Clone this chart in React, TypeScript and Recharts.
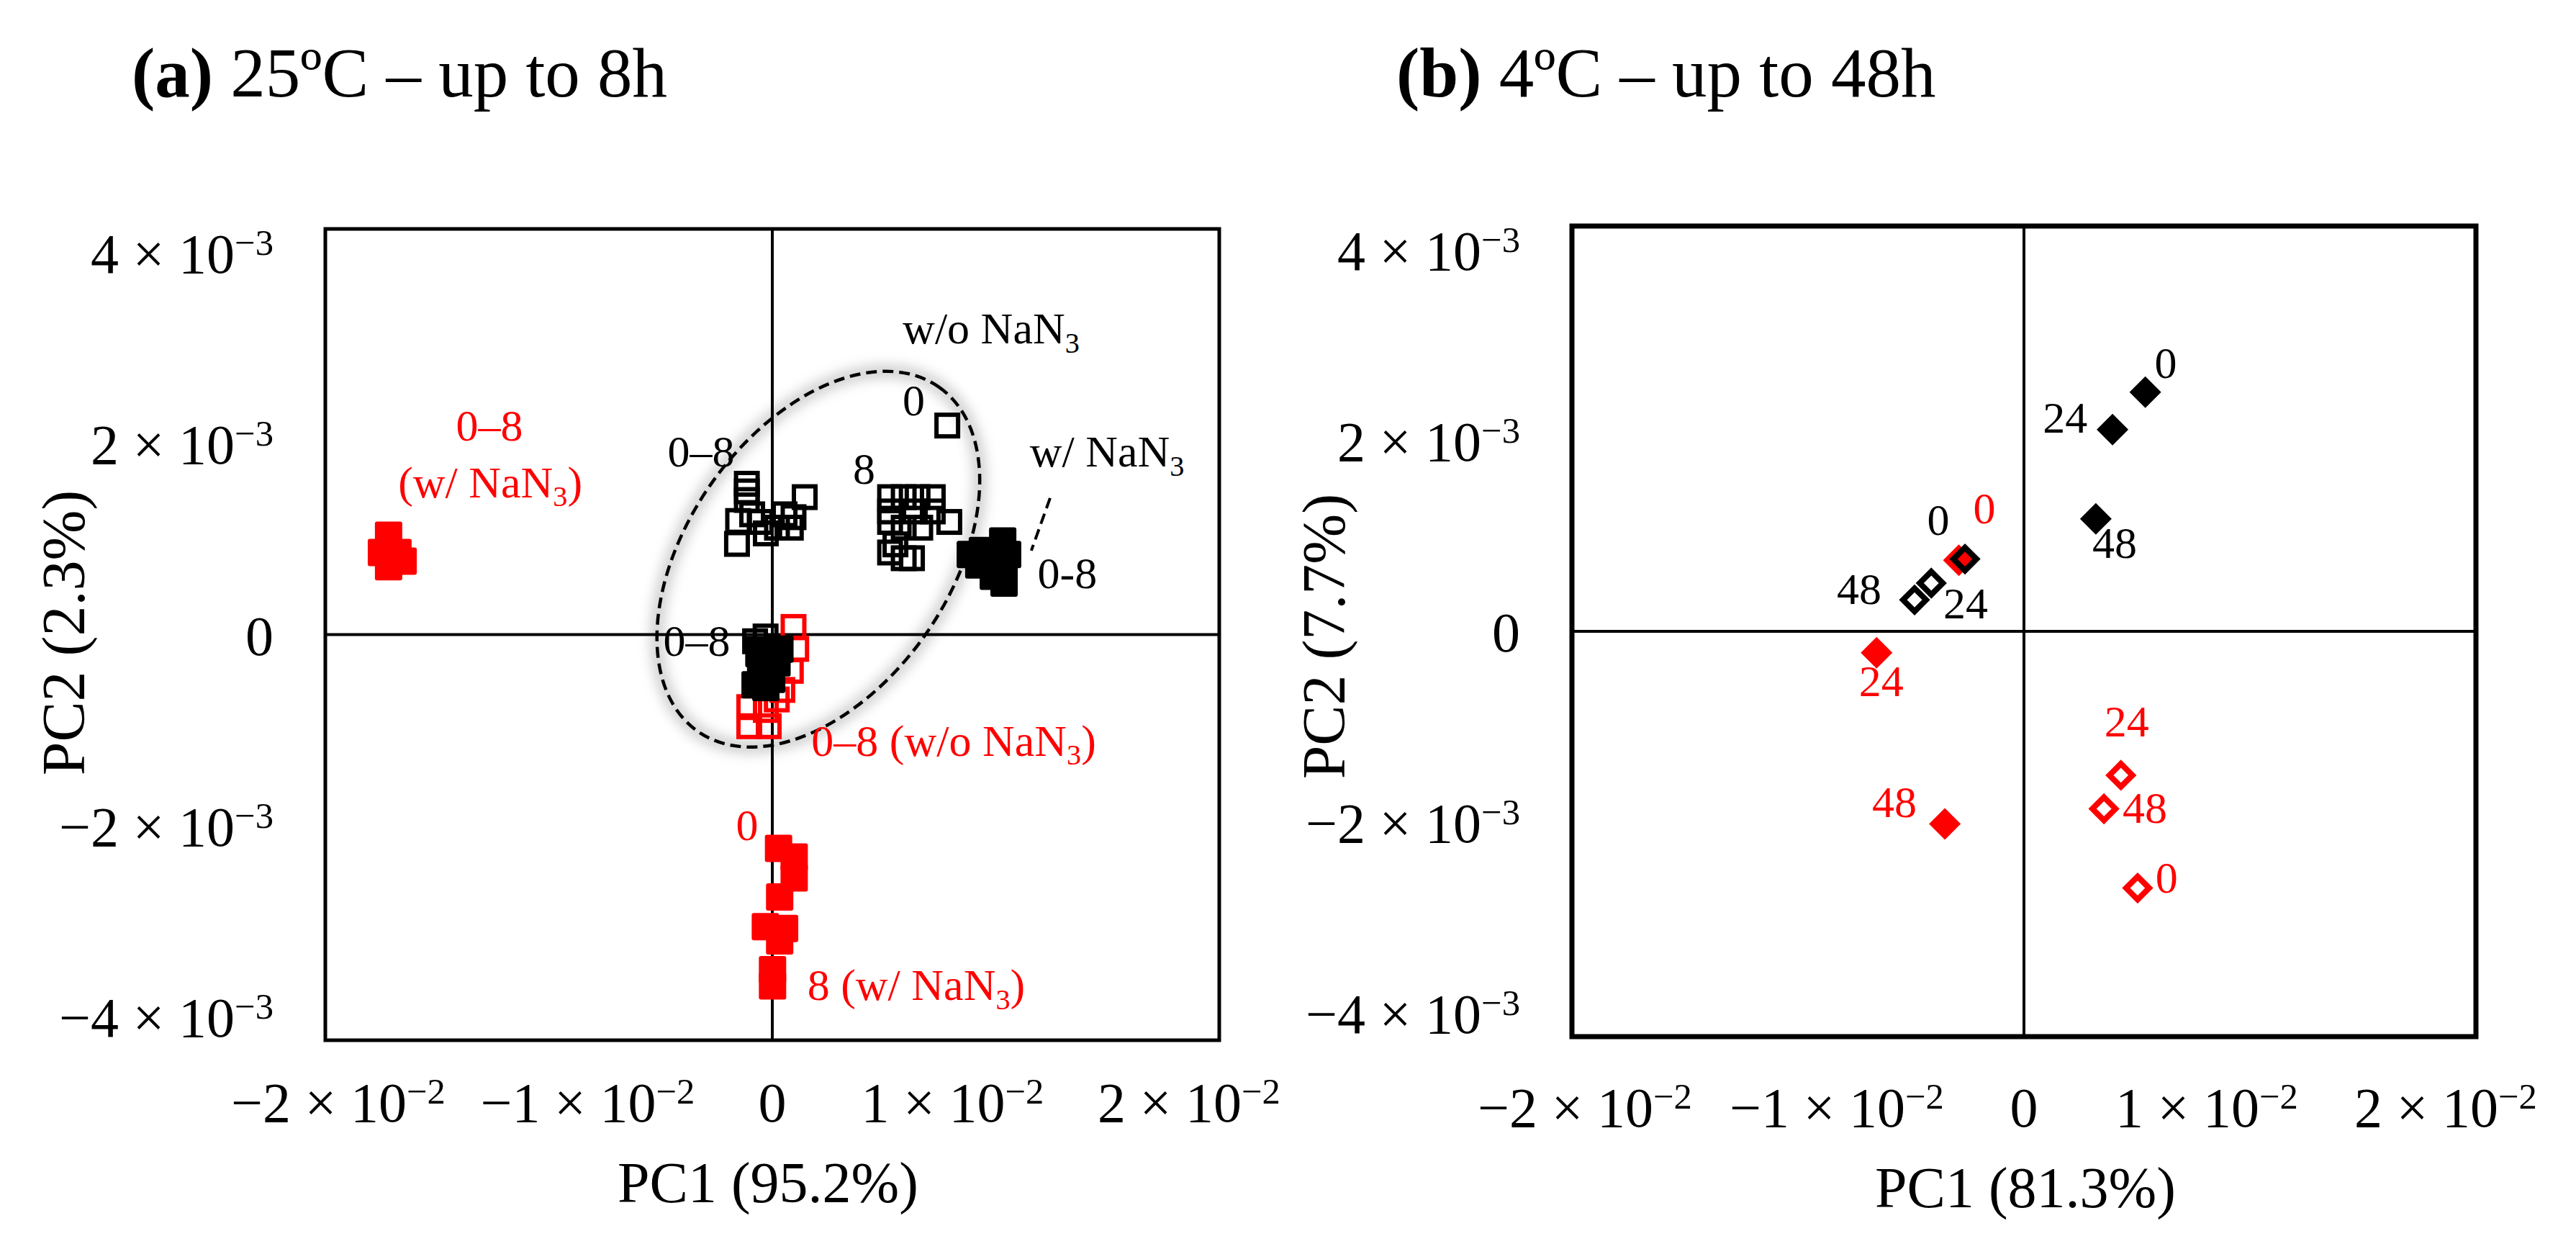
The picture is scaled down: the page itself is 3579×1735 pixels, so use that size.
import React from "react";
import { ScatterChart, Scatter, XAxis, YAxis, ReferenceLine, ReferenceArea, ReferenceDot } from "recharts";

const FONT = '"Liberation Serif", "Times New Roman", serif';
const RED = "#ff0000";
const BLACK = "#000000";

const xTicks = [-0.02, -0.01, 0, 0.01, 0.02];
const yTicks = [-0.004, -0.002, 0, 0.002, 0.004];
const xDomain = [-0.02, 0.02];
const yDomain = [-0.00425, 0.00425];
// the printed x labels sit a little toward the middle, not on the ticks
const xTickNudge = [18, 54, 0, -60, -42];

// ---- (a) 25ºC, up to 8 h ----
// black open squares, "0–8" group left of the y axis
const aBlackOpenUpper = [
  { x: -0.00114, y: 0.00158 }, { x: -0.00114, y: 0.0015 }, { x: -0.00114, y: 0.00141 },
  { x: -0.00153, y: 0.00119 }, { x: -0.00158, y: 0.00095 }, { x: 0.00145, y: 0.00144 },
  { x: -0.00052, y: 0.00118 }, { x: 0.00021, y: 0.00112 }, { x: 0.00083, y: 0.00112 },
  { x: 0.00095, y: 0.00123 }, { x: -0.00029, y: 0.00106 }, { x: -0.0009, y: 0.00126 },
  { x: 0.00055, y: 0.00126 },
];
// black open squares, "0" .. "8" group
const aBlackOpenRight = [
  { x: 0.00783, y: 0.00219 }, { x: 0.00527, y: 0.00144 }, { x: 0.00588, y: 0.00144 },
  { x: 0.0065, y: 0.00144 }, { x: 0.00718, y: 0.00144 }, { x: 0.00527, y: 0.00129 },
  { x: 0.00638, y: 0.00129 }, { x: 0.00718, y: 0.00129 }, { x: 0.00527, y: 0.00118 },
  { x: 0.00588, y: 0.00112 }, { x: 0.00662, y: 0.00112 }, { x: 0.00792, y: 0.00118 },
  { x: 0.00551, y: 0.000945 }, { x: 0.00588, y: 0.0008 }, { x: 0.00625, y: 0.0008 },
  { x: 0.00527, y: 0.00086 },
];
const aBlackOpenOrigin = [
  { x: -0.00077, y: -0.00007 }, { x: -0.0003, y: -0.00002 }, { x: -0.0006, y: -0.00015 },
];
const aBlackFilledOrigin = [
  { x: -0.00052, y: -0.000354 }, { x: -0.00077, y: -0.000526 }, { x: -0.00029, y: -0.000554 },
  { x: 0.00021, y: -0.000296 }, { x: 0.00034, y: -0.000152 }, { x: -0.00003, y: -0.000469 },
  { x: -0.0006, y: -0.0002 },
];
const aBlackFilledRight = [
  { x: 0.00886, y: 0.00084 }, { x: 0.0094, y: 0.00088 }, { x: 0.01031, y: 0.00098 },
  { x: 0.01053, y: 0.00084 }, { x: 0.01037, y: 0.00069 }, { x: 0.00989, y: 0.00061 },
  { x: 0.01037, y: 0.00054 }, { x: 0.00924, y: 0.00073 },
];
const aRedOpenOrigin = [
  { x: 0.00095, y: 0.00008 }, { x: 0.00107, y: -0.00015 }, { x: 0.00083, y: -0.00038 },
  { x: 0.00045, y: -0.00058 }, { x: 0.0002, y: -0.00068 }, { x: -0.00103, y: -0.00076 },
  { x: -0.00029, y: -0.00079 }, { x: -0.00103, y: -0.00096 }, { x: -0.00016, y: -0.00096 },
];
const aRedFilledColumn = [
  { x: 0.00028, y: -0.00224 }, { x: 0.00098, y: -0.00233 }, { x: 0.00098, y: -0.00255 },
  { x: 0.00033, y: -0.00275 }, { x: -0.00031, y: -0.00306 }, { x: 0.00055, y: -0.00308 },
  { x: 0.00033, y: -0.00321 }, { x: 0.00001, y: -0.00351 }, { x: 0.00001, y: -0.00368 },
];
const aRedFilledLeft = [
  { x: -0.01717, y: 0.00104 }, { x: -0.01749, y: 0.00086 }, { x: -0.01675, y: 0.00086 },
  { x: -0.01717, y: 0.00071 }, { x: -0.01652, y: 0.00077 },
];
const aLabels = [
  { x: 0.00979, y: 0.00305, text: "w/o NaN_3", color: BLACK },
  { x: 0.00633, y: 0.0023, text: "0", color: BLACK },
  { x: 0.01498, y: 0.00176, text: "w/ NaN_3", color: BLACK },
  { x: 0.0132, y: 0.00049, text: "0-8", color: BLACK },
  { x: 0.00411, y: 0.00158, text: "8", color: BLACK },
  { x: -0.00319, y: 0.00176, text: "0–8", color: BLACK },
  { x: -0.00338, y: -0.00022, text: "0–8", color: BLACK },
  { x: 0.00812, y: -0.00127, text: "0–8 (w/o NaN_3)", color: RED },
  { x: -0.00113, y: -0.00215, text: "0", color: RED },
  { x: 0.00644, y: -0.00383, text: "8 (w/ NaN_3)", color: RED },
  { x: -0.01266, y: 0.00203, text: "0–8", color: RED },
  { x: -0.01262, y: 0.00144, text: "(w/ NaN_3)", color: RED },
];
const aEllipseCenter = { x: 0.00206, y: 0.00079 };
const aLeader = [{ x: 0.01243, y: 0.00143 }, { x: 0.01159, y: 0.00088 }];

// ---- (b) 4ºC, up to 48 h ----
const bBlackFilled = [
  { x: 0.00537, y: 0.002508 }, { x: 0.00392, y: 0.002116 }, { x: 0.00318, y: 0.001179 },
];
const bRedFilled = [
  { x: -0.00288, y: 0.000746 }, { x: -0.00652, y: -0.000224 }, { x: -0.0035, y: -0.00202 },
];
const bBlackOpen = [
  { x: -0.00261, y: 0.000758 }, { x: -0.0041, y: 0.000506 }, { x: -0.00484, y: 0.00033 },
];
const bRedOpen = [
  { x: 0.00429, y: -0.001509 }, { x: 0.00354, y: -0.001861 }, { x: 0.00503, y: -0.002692 },
];
const bLabels = [
  { x: 0.00627, y: 0.00266, text: "0", color: BLACK },
  { x: 0.00182, y: 0.002085, text: "24", color: BLACK },
  { x: 0.00401, y: 0.00077, text: "48", color: BLACK },
  { x: -0.00379, y: 0.00101, text: "0", color: BLACK },
  { x: -0.00175, y: 0.00113, text: "0", color: RED },
  { x: -0.00729, y: 0.000287, text: "48", color: BLACK },
  { x: -0.00258, y: 0.000136, text: "24", color: BLACK },
  { x: -0.00631, y: -0.00068, text: "24", color: RED },
  { x: 0.00455, y: -0.0011, text: "24", color: RED },
  { x: 0.00535, y: -0.00201, text: "48", color: RED },
  { x: 0.00631, y: -0.00274, text: "0", color: RED },
  { x: -0.00573, y: -0.00195, text: "48", color: RED },
];

const TICK_FS = 78;
const LABEL_FS = 62;

function sciParts(v: number, exp: number) {
  if (Math.abs(v) < 1e-12) return null;
  const m = Math.round(v / Math.pow(10, exp));
  return { mant: (m < 0 ? "−" : "") + Math.abs(m), exp: "−" + Math.abs(exp) };
}

function SciText({ x, y, v, exp, anchor }: any) {
  const p = sciParts(v, exp);
  return (
    <text x={x} y={y} textAnchor={anchor} fontFamily={FONT} fontSize={TICK_FS} fill="#000">
      {p ? (
        <>
          <tspan>{p.mant + " × 10"}</tspan>
          <tspan dy={-TICK_FS * 0.32} fontSize={TICK_FS * 0.65}>{p.exp}</tspan>
        </>
      ) : (
        "0"
      )}
    </text>
  );
}

function richText(text: string, fs: number) {
  const parts = text.split("_3");
  const out: any[] = [];
  parts.forEach((part, i) => {
    if (part) out.push(<tspan key={"p" + i} dy={i > 0 ? -fs * 0.2 : 0}>{part}</tspan>);
    if (i < parts.length - 1) {
      out.push(<tspan key={"s" + i} dy={fs * 0.2} fontSize={fs * 0.65}>3</tspan>);
    }
  });
  return out;
}

const labelShape = (p: any) => {
  const d = p.payload || p;
  return (
    <text x={p.cx} y={p.cy} dy={LABEL_FS * 0.34} textAnchor="middle" fontFamily={FONT} fontSize={LABEL_FS} fill={d.color}>
      {richText(d.text, LABEL_FS)}
    </text>
  );
};

const squareShape = (color: string, filled: boolean) => (p: any) => {
  const s = filled ? 38 : 30;
  return (
    <rect x={p.cx - s / 2} y={p.cy - s / 2} width={s} height={s} rx={filled ? 3 : 0}
      fill={filled ? color : "none"} stroke={filled ? "none" : color} strokeWidth={6} />
  );
};

const diamondShape = (color: string, filled: boolean) => (p: any) => {
  const r = filled ? 22 : 16;
  const pts = `${p.cx},${p.cy - r} ${p.cx + r},${p.cy} ${p.cx},${p.cy + r} ${p.cx - r},${p.cy}`;
  return <polygon points={pts} fill={filled ? color : "none"} stroke={filled ? "none" : color} strokeWidth={8} strokeLinejoin="miter" />;
};

const ellipseShape = (p: any) => (
  <g>
    <defs>
      <filter id="ellGlow" x="-30%" y="-30%" width="160%" height="160%">
        <feGaussianBlur stdDeviation="9" />
      </filter>
    </defs>
    <ellipse cx={p.cx} cy={p.cy} rx={292} ry={182} transform={`rotate(-55 ${p.cx} ${p.cy})`}
      fill="none" stroke="#000" strokeOpacity={0.22} strokeWidth={16} filter="url(#ellGlow)" />
    <ellipse cx={p.cx} cy={p.cy} rx={292} ry={182} transform={`rotate(-55 ${p.cx} ${p.cy})`}
      fill="none" stroke="#000" strokeWidth={4.5} strokeDasharray="15 8" />
  </g>
);

function Panel({ width, margin, yAxisWidth, xTickBase, border, children }: any) {
  return (
    <ScatterChart width={width} height={1735} margin={margin}>
      <XAxis type="number" dataKey="x" domain={xDomain} ticks={xTicks} interval={0} allowDataOverflow
        axisLine={false} tickLine={false} tickSize={0} tickMargin={0} height={250}
        tick={(t: any) => (
          <SciText x={t.x + (xTickNudge[t.index] || 0)} y={t.y + xTickBase} v={t.payload.value} exp={-2} anchor="middle" />
        )} />
      <YAxis type="number" dataKey="y" domain={yDomain} ticks={yTicks} interval={0} allowDataOverflow
        axisLine={false} tickLine={false} tickSize={0} tickMargin={0} width={yAxisWidth}
        tick={(t: any) => <SciText x={t.x - 72} y={t.y + 28} v={t.payload.value} exp={-3} anchor="end" />} />
      <ReferenceLine x={0} stroke="#000" strokeWidth={4} />
      <ReferenceLine y={0} stroke="#000" strokeWidth={4} />
      {children}
      <ReferenceArea x1={-0.02} x2={0.02} y1={-0.00425} y2={0.00425} fill="none" fillOpacity={0} stroke="#000" strokeWidth={border} />
    </ScatterChart>
  );
}

export default function App() {
  return (
    <div style={{ position: "absolute", left: 0, top: 0, width: 3579, height: 1735, background: "#fff", fontFamily: FONT }}>
      <div style={{ position: "absolute", left: 0, top: 0 }}>
        <Panel width={1900} margin={{ top: 318, right: 206, bottom: 40, left: 52 }} yAxisWidth={400} xTickBase={113} border={5}>
          <ReferenceDot x={aEllipseCenter.x} y={aEllipseCenter.y} shape={ellipseShape} />
          <ReferenceLine segment={aLeader} stroke="#000" strokeWidth={4} strokeDasharray="15 8" />
          <Scatter data={aRedFilledLeft} shape={squareShape(RED, true)} isAnimationActive={false} />
          <Scatter data={aRedFilledColumn} shape={squareShape(RED, true)} isAnimationActive={false} />
          <Scatter data={aRedOpenOrigin} shape={squareShape(RED, false)} isAnimationActive={false} />
          <Scatter data={aBlackOpenUpper} shape={squareShape(BLACK, false)} isAnimationActive={false} />
          <Scatter data={aBlackOpenRight} shape={squareShape(BLACK, false)} isAnimationActive={false} />
          <Scatter data={aBlackOpenOrigin} shape={squareShape(BLACK, false)} isAnimationActive={false} />
          <Scatter data={aBlackFilledOrigin} shape={squareShape(BLACK, true)} isAnimationActive={false} />
          <Scatter data={aBlackFilledRight} shape={squareShape(BLACK, true)} isAnimationActive={false} />
          <Scatter data={aLabels} shape={labelShape} isAnimationActive={false} />
        </Panel>
      </div>
      <div style={{ position: "absolute", left: 1790, top: 0 }}>
        <Panel width={1789} margin={{ top: 314, right: 139, bottom: 45, left: 54 }} yAxisWidth={340} xTickBase={125} border={7}>
          <Scatter data={bRedFilled} shape={diamondShape(RED, true)} isAnimationActive={false} />
          <Scatter data={bBlackFilled} shape={diamondShape(BLACK, true)} isAnimationActive={false} />
          <Scatter data={bBlackOpen} shape={diamondShape(BLACK, false)} isAnimationActive={false} />
          <Scatter data={bRedOpen} shape={diamondShape(RED, false)} isAnimationActive={false} />
          <Scatter data={bLabels} shape={labelShape} isAnimationActive={false} />
        </Panel>
      </div>
      <svg width={3579} height={1735} style={{ position: "absolute", left: 0, top: 0, pointerEvents: "none" }}>
        <text x={183} y={134} fontFamily={FONT} fontSize={97} fill="#000">
          <tspan fontWeight="bold">(a)</tspan>
          <tspan> 25ºC – up to 8h</tspan>
        </text>
        <text x={1940} y={134} fontFamily={FONT} fontSize={97} fill="#000">
          <tspan fontWeight="bold">(b)</tspan>
          <tspan> 4ºC – up to 48h</tspan>
        </text>
        <text x={1067} y={1670} textAnchor="middle" fontFamily={FONT} fontSize={80} fill="#000">PC1 (95.2%)</text>
        <text x={2814} y={1677} textAnchor="middle" fontFamily={FONT} fontSize={80} fill="#000">PC1 (81.3%)</text>
        <text x={117} y={879} textAnchor="middle" transform="rotate(-90 117 879)" fontFamily={FONT} fontSize={84} fill="#000">PC2 (2.3%)</text>
        <text x={1868} y={884} textAnchor="middle" transform="rotate(-90 1868 884)" fontFamily={FONT} fontSize={84} fill="#000">PC2 (7.7%)</text>
      </svg>
    </div>
  );
}
